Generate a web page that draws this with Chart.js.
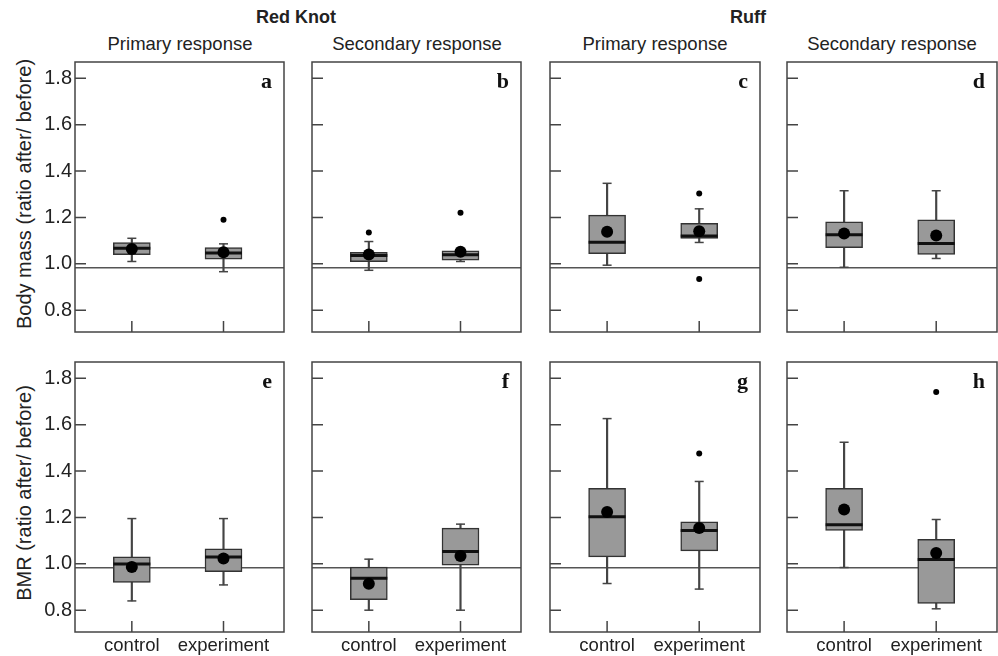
<!DOCTYPE html>
<html>
<head>
<meta charset="utf-8">
<script src="https://cdn.jsdelivr.net/npm/chart.js@4.4.0/dist/chart.umd.min.js"></script>
<style>
  body { margin: 0; background: #fff; width: 998px; height: 656px; overflow: hidden; position: relative;
         font-family: "Liberation Sans", Arial, sans-serif; color: #222; }
  .t { position: absolute; white-space: nowrap; transform: translate(-50%, -50%); }
  .title { font-weight: bold; font-size: 18px; }
  .sub { font-size: 18.5px; }
  .ylab { font-size: 20px; transform: translate(-50%, -50%) rotate(-90deg); }
  canvas { position: absolute; }
</style>
</head>
<body>
<div class="t title" style="left:296px;top:17px">Red Knot</div>
<div class="t title" style="left:748px;top:17px">Ruff</div>
<div class="t sub" style="left:180px;top:44px">Primary response</div>
<div class="t sub" style="left:417px;top:44px">Secondary response</div>
<div class="t sub" style="left:655px;top:44px">Primary response</div>
<div class="t sub" style="left:892px;top:44px">Secondary response</div>
<div class="t ylab" style="left:24px;top:194px">Body mass (ratio after/ before)</div>
<div class="t ylab" style="left:24px;top:493px">BMR (ratio after/ before)</div>

<script>
  /* --- DATA (panels a..h, each [control, experiment]) --- */
  const panelLetters = ["a", "b", "c", "d", "e", "f", "g", "h"];
  const groupLabels = ["control", "experiment"];
  const yTickValues = [0.8, 1.0, 1.2, 1.4, 1.6, 1.8];
  const baselineRatio = 0.983;

  const whiskerLow = [[1.010, 0.966], [0.972, 1.010], [0.994, 1.092], [0.985, 1.023],
                      [0.840, 0.909], [0.800, 0.800], [0.915, 0.891], [0.984, 0.806]];
  const quartile1 = [[1.039, 1.020], [1.009, 1.016], [1.044, 1.109], [1.070, 1.040],
                     [0.920, 0.966], [0.845, 0.994], [1.030, 1.056], [1.144, 0.829]];
  const medians = [[1.067, 1.047], [1.036, 1.039], [1.093, 1.120], [1.125, 1.088],
                   [0.999, 1.029], [0.938, 1.053], [1.203, 1.144], [1.168, 1.019]];
  const quartile3 = [[1.092, 1.070], [1.050, 1.056], [1.210, 1.175], [1.181, 1.190],
                     [1.030, 1.065], [0.986, 1.154], [1.325, 1.181], [1.325, 1.105]];
  const whiskerHigh = [[1.110, 1.086], [1.096, 1.058], [1.347, 1.237], [1.315, 1.315],
                       [1.195, 1.195], [1.020, 1.171], [1.626, 1.355], [1.524, 1.191]];
  const means = [[1.064, 1.050], [1.040, 1.052], [1.138, 1.140], [1.131, 1.122],
                 [0.986, 1.023], [0.914, 1.034], [1.223, 1.154], [1.234, 1.047]];
  const outliers = [[[], [1.190]], [[1.135], [1.220]], [[], [1.303, 0.935]], [[], []],
                    [[], []], [[], []], [[], [1.475]], [[], [1.741]]];

  /* --- LAYOUT --- */
  const colLeft = [75, 312, 550, 787];
  const colRight = [284, 521, 760, 997];
  const rowTop = [62, 362];
  const rowBottom = [332, 632];
  const xMin = -0.62, xMax = 1.66;
  const yMin = 0.706, yMax = 1.87;
  const ink = "#444";

  // frame, inward ticks, panel letter
  const panelDecor = {
    id: "panelDecor",
    afterDraw(chart, args, opts) {
      const { ctx, chartArea: a, scales } = chart;
      ctx.save();
      ctx.strokeStyle = ink;
      ctx.lineWidth = 1.5;
      ctx.strokeRect(a.left, a.top, a.right - a.left, a.bottom - a.top);
      ctx.beginPath();
      yTickValues.forEach((v) => {
        const y = scales.y.getPixelForValue(v);
        ctx.moveTo(a.left, y);
        ctx.lineTo(a.left + 11, y);
      });
      [0, 1].forEach((v) => {
        const x = scales.x.getPixelForValue(v);
        ctx.moveTo(x, a.bottom);
        ctx.lineTo(x, a.bottom - 11);
      });
      ctx.stroke();
      ctx.fillStyle = "#111";
      ctx.font = "bold 22px 'Liberation Serif', 'Times New Roman', serif";
      ctx.textAlign = "right";
      ctx.textBaseline = "alphabetic";
      ctx.fillText(opts.letter, a.right - 12, a.top + 26);
      ctx.restore();
    },
  };

  panelLetters.forEach((letter, p) => {
    const col = p % 4, row = Math.floor(p / 4);
    const padL = col === 0 ? 75 : 4;
    const padB = row === 1 ? 24 : 4;
    const canvas = document.createElement("canvas");
    const w = colRight[col] - colLeft[col] + padL + 4;
    const h = rowBottom[row] - rowTop[row] + 4 + padB;
    canvas.style.left = colLeft[col] - padL + "px";
    canvas.style.top = rowTop[row] - 4 + "px";
    canvas.style.width = w + "px";
    canvas.style.height = h + "px";
    canvas.width = w;
    canvas.height = h;
    document.body.appendChild(canvas);

    const pts = (arr) => arr.map((v, i) => ({ x: i, y: v }));
    const outPts = [];
    outliers[p].forEach((list, i) => list.forEach((v) => outPts.push({ x: i, y: v })));

    new Chart(canvas, {
      type: "bar",
      data: {
        datasets: [
          { type: "line", data: [{ x: xMin, y: baselineRatio }, { x: xMax, y: baselineRatio }],
            borderColor: "#555", borderWidth: 1.5, pointRadius: 0, order: 9 },
          { type: "bar", data: groupLabels.map((g, i) => ({ x: i, y: [whiskerLow[p][i], whiskerHigh[p][i]] })),
            backgroundColor: ink, barThickness: 1.5, grouped: false, order: 8 },
          { type: "scatter", data: pts(whiskerLow[p]).concat(pts(whiskerHigh[p])),
            pointStyle: "line", radius: 4.5, borderColor: ink, borderWidth: 1.5, order: 7 },
          { type: "bar", data: groupLabels.map((g, i) => ({ x: i, y: [quartile1[p][i], quartile3[p][i]] })),
            backgroundColor: "#999999", borderColor: "#333", borderWidth: 1.5, borderSkipped: false,
            barThickness: 37, grouped: false, order: 6 },
          { type: "scatter", data: pts(medians[p]), pointStyle: "line", radius: 18.5,
            borderColor: "#111", borderWidth: 3, order: 5 },
          { type: "scatter", data: pts(means[p]), pointStyle: "circle", radius: 6,
            backgroundColor: "#000", borderWidth: 0, order: 4 },
          { type: "scatter", data: outPts, pointStyle: "circle", radius: 3,
            backgroundColor: "#000", borderWidth: 0, order: 3 },
        ],
      },
      options: {
        responsive: false,
        animation: false,
        events: [],
        layout: { autoPadding: false, padding: { top: 4, right: 4, left: 0, bottom: 0 } },
        plugins: { legend: { display: false }, tooltip: { enabled: false }, panelDecor: { letter } },
        scales: {
          x: {
            type: "linear", min: xMin, max: xMax, offset: false,
            grid: { display: false, drawTicks: false }, border: { display: false },
            afterBuildTicks: (s) => { s.ticks = groupLabels.map((g, i) => ({ value: i })); },
            ticks: {
              display: row === 1, padding: 3, color: "#222", maxRotation: 0, autoSkip: false,
              font: { family: "'Liberation Sans', Arial, sans-serif", size: 18.5 },
              callback: (v) => groupLabels[v],
            },
            afterFit: (s) => { s.height = padB; s.paddingLeft = 0; s.paddingRight = 0; },
          },
          y: {
            type: "linear", min: yMin, max: yMax,
            grid: { display: false, drawTicks: false }, border: { display: false },
            afterBuildTicks: (s) => { s.ticks = yTickValues.map((v) => ({ value: v })); },
            ticks: {
              display: col === 0, padding: 3, color: "#222",
              font: { family: "'Liberation Sans', Arial, sans-serif", size: 20 },
              callback: (v) => v.toFixed(1),
            },
            afterFit: (s) => { s.width = padL; s.paddingTop = 0; s.paddingBottom = 0; },
          },
        },
      },
      plugins: [panelDecor],
    });
  });
</script>
</body>
</html>
